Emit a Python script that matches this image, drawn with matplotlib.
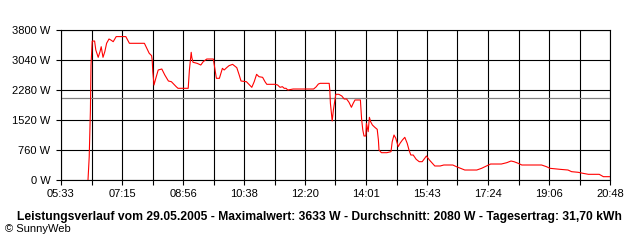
import numpy as np
import matplotlib
matplotlib.use("Agg")
import matplotlib.pyplot as plt

OUTPUT_FILE = "out.png"

# power readings (time of day, watts)
times = ["06:18", "06:20", "06:22", "06:23", "06:25", "06:29", "06:31", "06:35",
         "06:38", "06:40", "06:43", "06:46", "06:49", "06:53", "06:56", "07:00",
         "07:05", "07:21", "07:27", "07:52", "07:56", "08:00", "08:04", "08:05",
         "08:06", "08:08", "08:11", "08:15", "08:21", "08:26", "08:32", "08:37",
         "08:45", "08:48", "09:05", "09:07", "09:10", "09:11", "09:13", "09:20",
         "09:26", "09:30", "09:36", "09:47", "09:48", "09:52", "09:57", "10:02",
         "10:05", "10:09", "10:13", "10:19", "10:26", "10:30", "10:33", "10:42",
         "10:51", "10:55", "10:59", "11:03", "11:09", "11:13", "11:16", "11:30",
         "11:34", "11:38", "11:42", "11:45", "11:48", "11:51", "12:00", "12:34",
         "12:38", "12:42", "12:45", "13:00", "13:01", "13:02", "13:05", "13:07",
         "13:11", "13:16", "13:21", "13:25", "13:29", "13:33", "13:37", "13:40",
         "13:43", "13:52", "13:54", "13:56", "13:58", "14:01", "14:02", "14:05",
         "14:07", "14:09", "14:12", "14:16", "14:20", "14:22", "14:23", "14:27",
         "14:36", "14:43", "14:45", "14:48", "14:51", "14:55", "14:58", "15:02",
         "15:06", "15:10", "15:13", "15:16", "15:20", "15:25", "15:30", "15:35",
         "15:38", "15:42", "15:47", "15:52", "15:56", "16:05", "16:11", "16:26",
         "16:32", "16:39", "16:46", "17:06", "17:14", "17:22", "17:29", "17:47",
         "17:56", "18:03", "18:08", "18:15", "18:21", "18:54", "19:02", "19:08",
         "19:25", "19:38", "19:44", "19:55", "20:03", "20:12", "20:30", "20:37",
         "20:48"]
watts = [0, 580, 1750, 2910, 3520, 3520, 3293, 3108,
         3250, 3377, 3108, 3250, 3463, 3572, 3547, 3504,
         3633, 3633, 3463, 3463, 3336, 3210, 3150, 3032,
         2744, 2407, 2576, 2787, 2812, 2660, 2508, 2490,
         2364, 2323, 2323, 2787, 3235, 3108, 2982, 2955,
         2913, 2997, 3065, 3065, 2956, 2576, 2576, 2829,
         2787, 2845, 2896, 2930, 2845, 2660, 2508, 2490,
         2348, 2490, 2677, 2617, 2601, 2490, 2424, 2424,
         2407, 2348, 2364, 2323, 2323, 2280, 2305, 2305,
         2356, 2432, 2449, 2449, 2280, 1943, 1495, 1773,
         2171, 2171, 2128, 2052, 2052, 1968, 1842, 1943,
         2027, 2027, 1545, 1267, 1115, 1115, 1436, 1224,
         1588, 1477, 1393, 1335, 1284, 1013, 760, 692,
         692, 717, 970, 1140, 1056, 844, 929, 1013,
         1081, 929, 760, 633, 633, 524, 464, 464,
         524, 608, 507, 423, 355, 355, 380, 380,
         338, 296, 253, 253, 296, 355, 405, 405,
         439, 481, 464, 423, 380, 380, 338, 296,
         270, 253, 211, 195, 169, 144, 144, 84,
         84]
average_w = 2080
x_labels = ["05:33", "07:15", "08:56", "10:38", "12:20", "14:01",
            "15:43", "17:24", "19:06", "20:48"]
y_ticks = [0, 760, 1520, 2280, 3040, 3800]
caption = ("Leistungsverlauf vom 29.05.2005 - Maximalwert: 3633 W - "
           "Durchschnitt: 2080 W - Tagesertrag: 31,70 kWh")


def to_min(s):
    h, m = s.split(":")
    return int(h) * 60 + int(m)


plt.rcParams['font.family'] = ['Liberation Sans', 'DejaVu Sans']

x = np.array([to_min(t) for t in times])
t0 = to_min(x_labels[0])
t1 = to_min(x_labels[-1])

fig = plt.figure(figsize=(6.4, 2.4), dpi=100)
ax = fig.add_axes([61 / 640, 60 / 240, 549 / 640, 150 / 240])

major = np.linspace(t0, t1, len(x_labels))
minor = (major[:-1] + major[1:]) / 2
ax.set_xticks(major)
ax.set_xticklabels(x_labels)
ax.set_xticks(minor, minor=True)
ax.set_yticks(y_ticks)
ax.set_yticklabels([f"{v} W" for v in y_ticks])
ax.set_xlim(t0, t1)
ax.set_ylim(0, 3800)

ax.grid(True, which='both', color='black', linewidth=0.8)
ax.axhline(average_w, color='#808080', linewidth=0.9, zorder=2.5)
ax.plot(x, watts, color='#ff0000', linewidth=0.8, zorder=3)

for sp in ax.spines.values():
    sp.set_color('black')
    sp.set_linewidth(0.8)
ax.tick_params(which='both', direction='out', length=3.6, width=0.8,
               color='black', labelsize=8, pad=3)
ax.tick_params(axis='y', pad=4)

fig.text(319 / 640, 1 - 217 / 240, caption, ha='center', va='center',
         fontsize=8.7, fontweight='bold')
fig.text(5 / 640, 1 - 229 / 240, "\u00a9 SunnyWeb", ha='left', va='center',
         fontsize=8)

plt.savefig(OUTPUT_FILE, dpi=100)
plt.close(fig)
